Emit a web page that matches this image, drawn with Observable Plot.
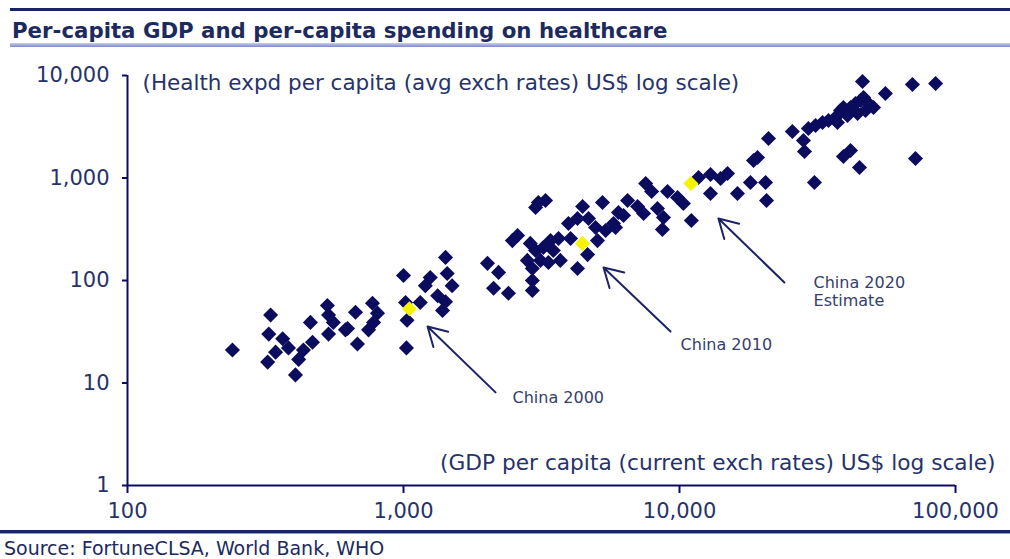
<!DOCTYPE html>
<html>
<head>
<meta charset="utf-8">
<script src="https://cdn.jsdelivr.net/npm/d3@7"></script>
<script src="https://cdn.jsdelivr.net/npm/@observablehq/plot@0.6"></script>
<style>
  html, body { margin: 0; padding: 0; background: #fff; }
  body { width: 1010px; height: 559px; overflow: hidden; font-family: "DejaVu Sans", sans-serif; }
  #head { position: relative; height: 52px; }
  #topRule { position: absolute; left: 10px; right: 0; top: 8px; height: 3px; background: #1a2366; }
  #title { position: absolute; left: 12px; top: 18px; font: bold 21.3px "DejaVu Sans", sans-serif; color: #1c2a60; white-space: nowrap; }
  #titleBar { position: absolute; left: 10px; right: 0; top: 43px; height: 4px; background: linear-gradient(#c8cfec, #7d8ac6); }
  #chart { height: 478px; }
  #chart svg { display: block; }
  #foot { position: relative; height: 29px; }
  #footRule { position: absolute; left: 0; right: 0; top: 0; height: 3px; background: #1a2366; border-bottom: 1px solid #8f9ad0; }
  #source { position: absolute; left: 4px; top: 7px; font-size: 19px; color: #1c2a60; white-space: nowrap; }
</style>
</head>
<body>
<div id="head">
  <div id="topRule"></div>
  <div id="title">Per-capita GDP and per-capita spending on healthcare</div>
  <div id="titleBar"></div>
</div>
<div id="chart"></div>
<div id="foot">
  <div id="footRule"></div>
  <div id="source">Source: FortuneCLSA, World Bank, WHO</div>
</div>
<script>
// Countries: GDP per capita (US$) and health expenditure per capita (US$)
const gdpPerCapita = [
  240, 330, 325, 365, 383, 344, 322, 434, 468, 417, 406, 460, 530, 535, 557, 535,
  616, 670, 681, 627, 772, 805, 779, 747, 1000, 1017, 1150, 1030, 1025, 1250, 1200,
  1420, 1440, 1500, 1330, 1420, 1385,
  2015, 2210, 2120, 2400, 2930, 2930, 2590, 2480, 3080, 3270, 3010, 2880, 3010, 3210,
  3410, 3645, 3490, 3135, 2810, 2930, 3350, 3700, 3960, 4270, 4680, 4965, 5400, 5765,
  5045, 4030, 4645, 4270, 4455, 5260, 6010, 5865, 6270, 6485, 7050, 7540, 7925, 7410,
  8320, 8750, 8670, 9050, 9840, 10330, 11040, 11720, 12950, 14090, 14930, 12950, 16220,
  18070, 20500, 20670, 19170, 18540, 21010, 25640, 28120, 28370, 30830, 39260, 41660,
  44890, 71610, 46030, 55720, 69820, 84700,
  29310, 31110, 32970, 34660, 36740, 38300, 39260, 41660, 43430, 45270, 46450, 48420,
  50470, 44170, 40620, 47200, 37350
];
const healthPerCapita = [
  21, 46, 30, 27, 22, 20, 16, 21, 25, 17, 12, 39, 57, 46, 39, 30,
  33, 49, 24, 34, 60, 48, 39, 33, 112, 61, 61, 41, 22, 107, 89,
  168, 117, 89, 71, 62, 51,
  147, 120, 84, 75, 100, 80, 275, 245, 577, 603, 515, 230, 196, 210,
  245, 257, 196, 157, 157, 131, 150, 157, 360, 403, 403, 329, 307, 360,
  245, 257, 179, 131, 527, 577, 461, 329, 431, 603, 527, 884, 738, 450,
  504, 412, 315, 738, 645, 564, 385, 1010, 1080, 990, 1105, 706, 706,
  904, 904, 603, 1585, 1480, 2430, 2840, 2320, 1815, 904, 1620, 1855,
  1265, 1550, 8740, 6670, 8170, 8350,
  3040, 3250, 3480, 3640, 3890, 4560, 4880, 4880, 5330, 5700, 6100, 5330,
  4880, 4260, 4070, 4560, 3480
];

// China highlighted points
const chinaYears = ["2000", "2010", "2020 Estimate"];
const chinaGdp = [1050, 4450, 11000];
const chinaHealth = [53, 230, 885];

// Annotation arrows (data units)
const arrowFromGdp = [2155, 9280, 23990];
const arrowFromHealth = [8.1, 31.8, 95.6];
const arrowToGdp = [1222, 5306, 13840];
const arrowToHealth = [35.6, 134, 403];

// Annotation labels
const labelText = ["China 2000", "China 2010", "China 2020", "Estimate"];
const labelGdp = [2483, 10090, 30600, 30600];
const labelHealth = [7.22, 23.7, 95.6, 63.8];

// Axes
const xTicks = [100, 1000, 10000, 100000];
const yTicks = [1, 10, 100, 1000, 10000];
const yTitle = "(Health expd per capita (avg exch rates) US$ log scale)";
const xTitle = "(GDP per capita (current exch rates) US$ log scale)";

const countries = gdpPerCapita.map((g, i) => ({gdp: g, health: healthPerCapita[i]}));
const china = chinaGdp.map((g, i) => ({year: chinaYears[i], gdp: g, health: chinaHealth[i]}));
const arrows = arrowFromGdp.map((g, i) => ({x1: g, y1: arrowFromHealth[i], x2: arrowToGdp[i], y2: arrowToHealth[i]}));
const labels = labelText.map((t, i) => ({text: t, gdp: labelGdp[i], health: labelHealth[i]}));

const navy = "#0c0c5e";
const textCol = "#26336a";

const chart = Plot.plot({
  width: 1010,
  height: 478,
  marginLeft: 127,
  marginRight: 55,
  marginTop: 23,
  marginBottom: 45,
  style: {fontFamily: "DejaVu Sans, sans-serif", background: "#fff", overflow: "visible"},
  x: {type: "log", domain: [100, 100000]},
  y: {type: "log", domain: [1, 10000]},
  marks: [
    Plot.axisX({ticks: xTicks, tickFormat: d3.format(","), tickSize: 8, tickPadding: 10, fontSize: 21, color: textCol, stroke: navy, strokeWidth: 2, label: null}),
    Plot.axisY({ticks: yTicks, tickFormat: d3.format(","), tickSize: 5, tickPadding: 13, fontSize: 21, color: textCol, stroke: navy, strokeWidth: 2, label: null}),
    Plot.ruleX([100], {stroke: navy, strokeWidth: 2}),
    Plot.ruleY([1], {stroke: navy, strokeWidth: 2}),
    Plot.text([yTitle], {frameAnchor: "top-left", textAnchor: "start", lineAnchor: "middle", dx: 15, dy: 8, fontSize: 21.5, fill: textCol}),
    Plot.text([xTitle], {frameAnchor: "bottom-right", textAnchor: "end", lineAnchor: "middle", dx: 40, dy: -22, fontSize: 21.7, fill: textCol}),
    Plot.dot(countries, {x: "gdp", y: "health", symbol: "diamond2", r: 6.8, fill: navy, stroke: "none"}),
    Plot.dot(china, {x: "gdp", y: "health", symbol: "diamond2", r: 6.8, fill: "#f4f400", stroke: "none"}),
    Plot.arrow(arrows, {x1: "x1", y1: "y1", x2: "x2", y2: "y2", stroke: "#1c2266", strokeWidth: 2, headLength: 16, bend: 0}),
    Plot.text(labels, {x: "gdp", y: "health", text: "text", textAnchor: "start", fontSize: 16, fill: "#34406e"})
  ]
});
document.getElementById("chart").appendChild(chart);
</script>
</body>
</html>
